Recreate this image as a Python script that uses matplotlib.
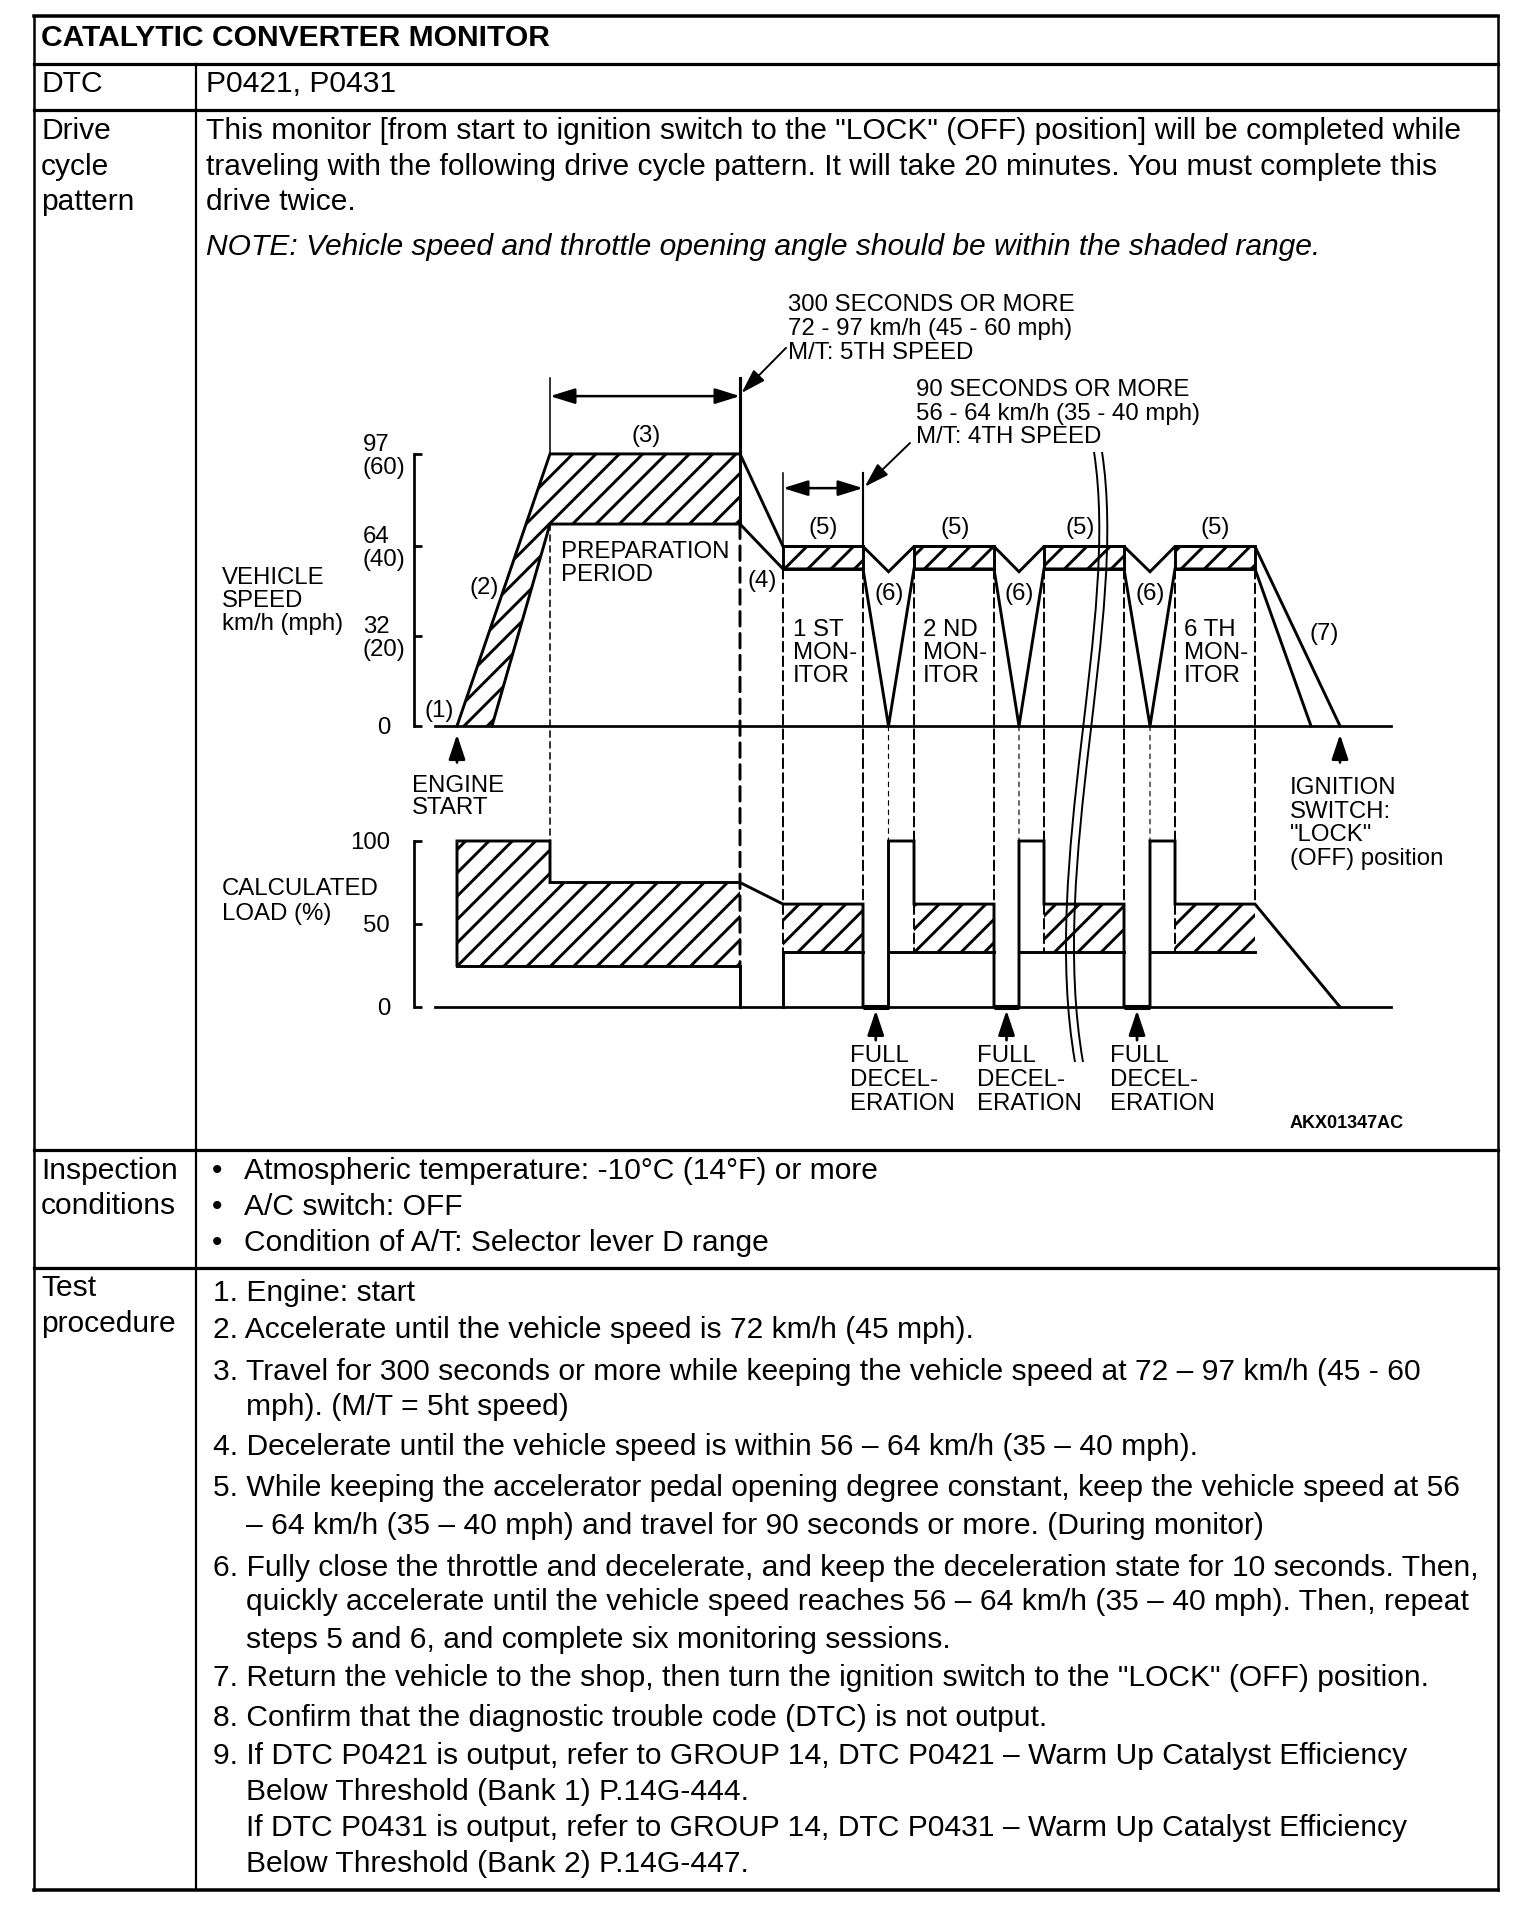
import matplotlib
matplotlib.use("Agg")
import matplotlib.pyplot as plt
from matplotlib.patches import ConnectionPatch, PathPatch
from matplotlib.path import Path
from matplotlib.transforms import blended_transform_factory, offset_copy

# ---------------------------------------------------------------- data
# schematic time axis (arbitrary units from engine start)
speed_upper_t = [0, 93, 283, 326, 406, 431.5, 457, 537, 562, 587, 667, 693, 718, 798, 883]
speed_upper_v = [0, 97, 97, 64, 64, 55, 64, 64, 55, 64, 64, 55, 64, 64, 0]
speed_lower_t = [35, 93, 283, 326, 406, 431.5, 457, 537, 562, 587, 667, 693, 718, 798, 854]
speed_lower_v = [0, 72, 72, 56, 56, 0, 56, 56, 0, 56, 56, 0, 56, 56, 0]

prep_speed_range = [72, 97]
monitor_speed_range = [56, 64]
monitor_start = [326, 457, 587, 718]
monitor_end = [406, 537, 667, 798]
full_decel_end = [431.5, 562, 693]      # full deceleration ends / re-acceleration starts
engine_start_t = 0
accel_end_t = 93
prep_end_t = 283
ignition_off_t = 883

speed_ticks = [0, 32, 64, 97]
speed_tick_labels = [["0"], ["32", "(20)"], ["64", "(40)"], ["97", "(60)"]]

load_upper_t = [0, 0, 93, 93, 283, 326, 406, 406, 431.5, 431.5, 457, 457, 537, 537,
                562, 562, 587, 587, 667, 667, 693, 693, 718, 718, 798, 883]
load_upper = [25, 100, 100, 75, 75, 62, 62, 0, 0, 100, 100, 62, 62, 0,
              0, 100, 100, 62, 62, 0, 0, 100, 100, 62, 62, 0]
prep_load_poly_t = [0, 0, 93, 93, 283, 283]
prep_load_poly = [25, 100, 100, 75, 75, 25]
prep_load_min = 25
monitor_load_range = [33, 62]
load_ticks = [0, 50, 100]
load_tick_labels = ["0", "50", "100"]

# ---------------------------------------------------------------- setup
DPI = 140
W, H = 1536, 1916


def fs(px):
    return px * 72.0 / DPI


BODY = fs(30)
CHART = fs(24)
LW = 1.5
HATCH = '//'

plt.rcParams['font.family'] = ['Liberation Sans', 'DejaVu Sans']
plt.rcParams['hatch.linewidth'] = 1.5
plt.rcParams['hatch.color'] = 'black'

fig = plt.figure(figsize=(W / DPI, H / DPI), dpi=DPI)
fig.patch.set_facecolor('white')

T0_PX = 457
SPD0_PX, SPD_SCALE = 726, 2.805
LOAD0_PX, LOAD_SCALE = 1007, 1.66
T_MIN, T_MAX = -100, 1000


def axes_px(x0, x1, y_top, y_bot):
    return fig.add_axes([x0 / W, 1 - y_bot / H, (x1 - x0) / W, (y_bot - y_top) / H])


ax_s = axes_px(T0_PX + T_MIN, T0_PX + T_MAX, SPD0_PX - 160 * SPD_SCALE, SPD0_PX + 30 * SPD_SCALE)
ax_s.set_xlim(T_MIN, T_MAX)
ax_s.set_ylim(-30, 160)
ax_l = axes_px(T0_PX + T_MIN, T0_PX + T_MAX, LOAD0_PX - 110 * LOAD_SCALE, LOAD0_PX + 50 * LOAD_SCALE)
ax_l.set_xlim(T_MIN, T_MAX)
ax_l.set_ylim(-50, 110)

ov = fig.add_axes([0, 0, 1, 1])
ov.set_xlim(0, W)
ov.set_ylim(H, 0)
ov.axis('off')
ov.patch.set_visible(False)
ov.set_zorder(10)

for ax, ticks, top in ((ax_s, speed_ticks, 97), (ax_l, load_ticks, 100)):
    ax.patch.set_visible(False)
    for s in ('top', 'right'):
        ax.spines[s].set_visible(False)
    ax.spines['left'].set_position(('data', -43))
    ax.spines['left'].set_bounds(0, top)
    ax.spines['bottom'].set_position(('data', 0))
    ax.spines['bottom'].set_bounds(-22, 934)
    ax.spines['left'].set_linewidth(1.4)
    ax.spines['bottom'].set_linewidth(1.4)
    ax.set_xticks([])
    ax.set_yticks(ticks)
    ax.tick_params(axis='y', direction='in', length=fs(8), width=1.4, labelleft=False)

# ---------------------------------------------------------------- speed chart
prep_t = speed_upper_t[:3] + speed_lower_t[:3][::-1]
prep_v = speed_upper_v[:3] + speed_lower_v[:3][::-1]
ax_s.fill(prep_t, prep_v, facecolor='none', edgecolor='k', hatch=HATCH, lw=0)
ax_s.bar(monitor_start, monitor_speed_range[1] - monitor_speed_range[0],
         width=[e - s for s, e in zip(monitor_start, monitor_end)],
         bottom=monitor_speed_range[0], align='edge', facecolor='none',
         edgecolor='k', hatch=HATCH, lw=LW)
ax_s.plot(speed_upper_t, speed_upper_v, color='k', lw=LW, clip_on=False, solid_joinstyle='miter')
ax_s.plot(speed_lower_t, speed_lower_v, color='k', lw=LW, clip_on=False, solid_joinstyle='miter')
ax_s.plot([prep_end_t, prep_end_t], prep_speed_range, color='k', lw=LW)

# dimension lines
arrow_kw = dict(arrowstyle='<|-|>,head_length=0.9,head_width=0.28', color='k', lw=1.3,
                shrinkA=0, shrinkB=0, mutation_scale=12)
ax_s.annotate('', xy=(accel_end_t, 117.6), xytext=(prep_end_t, 117.6), arrowprops=arrow_kw,
              annotation_clip=False)
ax_s.plot([accel_end_t, accel_end_t], [97, 124], color='k', lw=0.8, clip_on=False)
ax_s.plot([prep_end_t, prep_end_t], [97, 124], color='k', lw=1.6, clip_on=False)
ax_s.annotate('', xy=(monitor_start[0], 84.8), xytext=(monitor_end[0], 84.8), arrowprops=arrow_kw,
              annotation_clip=False)
ax_s.plot([monitor_start[0]] * 2, [64, 90.3], color='k', lw=0.8, clip_on=False)
ax_s.plot([monitor_end[0]] * 2, [64, 90.3], color='k', lw=1.1, clip_on=False)

lead_kw = dict(arrowstyle='-|>,head_length=0.9,head_width=0.28', color='k', lw=1.0,
               shrinkA=0, shrinkB=0, mutation_scale=12)
ax_s.annotate('', xy=(284.5, 118.7), xytext=(329, 134.8), arrowprops=lead_kw, annotation_clip=False)
ax_s.annotate('', xy=(407.8, 85.3), xytext=(453, 100.9), arrowprops=lead_kw, annotation_clip=False)

up_kw = dict(arrowstyle='-|>,head_length=0.9,head_width=0.3', color='k', lw=1.4,
             shrinkA=0, shrinkB=0, mutation_scale=12)
ax_s.annotate('', xy=(engine_start_t, -3), xytext=(engine_start_t, -13), arrowprops=up_kw,
              annotation_clip=False)
ax_s.annotate('', xy=(ignition_off_t, -3), xytext=(ignition_off_t, -13), arrowprops=up_kw,
              annotation_clip=False)

# ---------------------------------------------------------------- load chart
ax_l.fill(prep_load_poly_t, prep_load_poly, facecolor='none', edgecolor='k', hatch=HATCH, lw=0)
ax_l.bar(monitor_start, monitor_load_range[1] - monitor_load_range[0],
         width=[e - s for s, e in zip(monitor_start, monitor_end)],
         bottom=monitor_load_range[0], align='edge', facecolor='none',
         edgecolor='k', hatch=HATCH, lw=0)
ax_l.plot(load_upper_t, load_upper, color='k', lw=LW, clip_on=False, solid_joinstyle='miter')
ax_l.plot([engine_start_t, prep_end_t, prep_end_t], [prep_load_min, prep_load_min, 0],
          color='k', lw=LW, solid_joinstyle='miter')
ax_l.plot([monitor_start[0], monitor_start[0]], [0, monitor_load_range[0]], color='k', lw=LW)
for i, e in enumerate(monitor_end):
    s = monitor_start[0] if i == 0 else full_decel_end[i - 1]
    ax_l.plot([s, e], [monitor_load_range[0]] * 2, color='k', lw=LW)
for e, d in zip(monitor_end, full_decel_end):
    ax_l.plot([e, d], [0, 0], color='k', lw=2.6, solid_capstyle='butt')
    ax_l.annotate('', xy=((e + d) / 2, -2), xytext=((e + d) / 2, -20), arrowprops=up_kw,
                  annotation_clip=False)


# ---------------------------------------------------------------- guide lines
def guide(t, v, L, lw=1.0, dash=(5, 2.5)):
    con = ConnectionPatch(xyA=(t, v), coordsA=ax_s.transData, xyB=(t, L), coordsB=ax_l.transData,
                          color='k', lw=lw, linestyle=(0, dash), shrinkA=0, shrinkB=0)
    fig.add_artist(con)


guide(accel_end_t, prep_speed_range[0], 100, lw=0.8, dash=(4, 3))
guide(prep_end_t, prep_speed_range[0], prep_load_min, lw=1.5, dash=(5, 2.5))
for s in monitor_start:
    guide(s, monitor_speed_range[0], monitor_load_range[0])
for e in monitor_end:
    guide(e, monitor_speed_range[0], monitor_load_range[1])
for d in full_decel_end:
    guide(d, 0, 100, lw=0.6, dash=(4, 4))

# ---------------------------------------------------------------- break marks
for dx in (0, 8):
    verts = [(1094 + dx, 452), (1120 + dx, 620), (1040 + dx, 860), (1075 + dx, 1062)]
    ov.add_patch(PathPatch(Path(verts, [Path.MOVETO, Path.CURVE4, Path.CURVE4, Path.CURVE4]),
                           facecolor='none', edgecolor='k', lw=1.0))


# ---------------------------------------------------------------- texts
def t(x, y, s, size=CHART, ha='left', **kw):
    ov.text(x, y, s, fontsize=size, ha=ha, va='center', color='k', **kw)


def block(x, y0, dy, lines, **kw):
    for i, s in enumerate(lines):
        t(x, y0 + i * dy, s, **kw)


def axis_label(ax, x, val, s, dy=0, ha='left'):
    tr = offset_copy(blended_transform_factory(ov.transData, ax.transData), fig=fig,
                     x=0, y=-dy, units='dots')
    ov.text(x, val, s, transform=tr, fontsize=CHART, ha=ha, va='center', color='k')


for v, labs in zip(speed_ticks, speed_tick_labels):
    if len(labs) == 1:
        axis_label(ax_s, 391, v, labs[0], ha='right', dy=2)
    else:
        axis_label(ax_s, 363, v, labs[0], dy=-9)
        axis_label(ax_s, 363, v, labs[1], dy=14)
for v, lab in zip(load_ticks, load_tick_labels):
    axis_label(ax_l, 390, v, lab, ha='right', dy=2)

block(788, 305, 24, ["300 SECONDS OR MORE", "72 - 97 km/h (45 - 60 mph)", "M/T: 5TH SPEED"])
block(916, 390, 23.5, ["90 SECONDS OR MORE", "56 - 64 km/h (35 - 40 mph)", "M/T: 4TH SPEED"])
t(646, 436, "(3)", ha='center')
block(222, 578, 23, ["VEHICLE", "SPEED", "km/h (mph)"])
t(439, 711, "(1)", ha='center')
t(484, 588, "(2)", ha='center')
block(561, 552, 23, ["PREPARATION", "PERIOD"])
t(762, 581, "(4)", ha='center')
for x in (823, 955, 1080, 1215):
    t(x, 528, "(5)", ha='center')
for x in (889, 1019, 1150):
    t(x, 594, "(6)", ha='center')
block(793, 630, 23, ["1 ST", "MON-", "ITOR"])
block(923, 630, 23, ["2 ND", "MON-", "ITOR"])
block(1184, 630, 23, ["6 TH", "MON-", "ITOR"])
t(1324, 634, "(7)", ha='center')
block(412, 786, 22, ["ENGINE", "START"])
block(1290, 788, 23.5, ["IGNITION", "SWITCH:", "\"LOCK\"", "(OFF) position"])
block(222, 889, 25, ["CALCULATED", "LOAD (%)"])
for x in (849.5, 977, 1110):
    block(x, 1056, 24, ["FULL", "DECEL-", "ERATION"])
t(1290, 1124, "AKX01347AC", size=fs(18), fontweight='bold')

# ---------------------------------------------------------------- table
TL, TR, TT, TB = 34, 1498, 16, 1890
ROWS = [63.5, 110, 1150, 1267.5]
COLX = 196
ov.plot([TL, TR], [TT, TT], color='k', lw=fs(3.5))
ov.plot([TL, TR], [TB, TB], color='k', lw=fs(3.5))
for y in ROWS:
    ov.plot([TL, TR], [y, y], color='k', lw=fs(3.2))
ov.plot([TL, TL], [TT, TB], color='k', lw=fs(2.5))
ov.plot([TR, TR], [TT, TB], color='k', lw=fs(2.5))
ov.plot([COLX, COLX], [ROWS[0], TB], color='k', lw=fs(2.2))

t(41, 38, "CATALYTIC CONVERTER MONITOR", size=BODY, fontweight='bold')
t(41, 84, "DTC", size=BODY)
t(206, 84, "P0421, P0431", size=BODY)
block(41, 131, 35.5, ["Drive", "cycle", "pattern"], size=BODY)
block(206, 131, 35.5, [
    "This monitor [from start to ignition switch to the \"LOCK\" (OFF) position] will be completed while",
    "traveling with the following drive cycle pattern. It will take 20 minutes. You must complete this",
    "drive twice."], size=BODY)
t(206, 247, "NOTE: Vehicle speed and throttle opening angle should be within the shaded range.",
  size=BODY, style='italic')

block(41, 1171, 35.5, ["Inspection", "conditions"], size=BODY)
inspection = ["Atmospheric temperature: -10°C (14°F) or more", "A/C switch: OFF",
              "Condition of A/T: Selector lever D range"]
for i, s in enumerate(inspection):
    y = 1171 + i * 36
    t(217.5, y, "•", size=BODY, ha='center')
    t(244.5, y, s, size=BODY)

block(41, 1288.5, 35.5, ["Test", "procedure"], size=BODY)
procedure = [
    (False, "1. Engine: start", 1293),
    (False, "2. Accelerate until the vehicle speed is 72 km/h (45 mph).", 1330),
    (False, "3. Travel for 300 seconds or more while keeping the vehicle speed at 72 – 97 km/h (45 - 60", 1371.5),
    (True, "mph). (M/T = 5ht speed)", 1407),
    (False, "4. Decelerate until the vehicle speed is within 56 – 64 km/h (35 – 40 mph).", 1447),
    (False, "5. While keeping the accelerator pedal opening degree constant, keep the vehicle speed at 56", 1488),
    (True, "– 64 km/h (35 – 40 mph) and travel for 90 seconds or more. (During monitor)", 1526.5),
    (False, "6. Fully close the throttle and decelerate, and keep the deceleration state for 10 seconds. Then,", 1567.5),
    (True, "quickly accelerate until the vehicle speed reaches 56 – 64 km/h (35 – 40 mph). Then, repeat", 1602),
    (True, "steps 5 and 6, and complete six monitoring sessions.", 1639.5),
    (False, "7. Return the vehicle to the shop, then turn the ignition switch to the \"LOCK\" (OFF) position.", 1678),
    (False, "8. Confirm that the diagnostic trouble code (DTC) is not output.", 1718),
    (False, "9. If DTC P0421 is output, refer to GROUP 14, DTC P0421 – Warm Up Catalyst Efficiency", 1756),
    (True, "Below Threshold (Bank 1) P.14G-444.", 1792.5),
    (True, "If DTC P0431 is output, refer to GROUP 14, DTC P0431 – Warm Up Catalyst Efficiency", 1828),
    (True, "Below Threshold (Bank 2) P.14G-447.", 1864.5),
]
for indent, s, y in procedure:
    t(246 if indent else 213, y, s, size=BODY)

fig.savefig("out.png", dpi=DPI, facecolor='white')
